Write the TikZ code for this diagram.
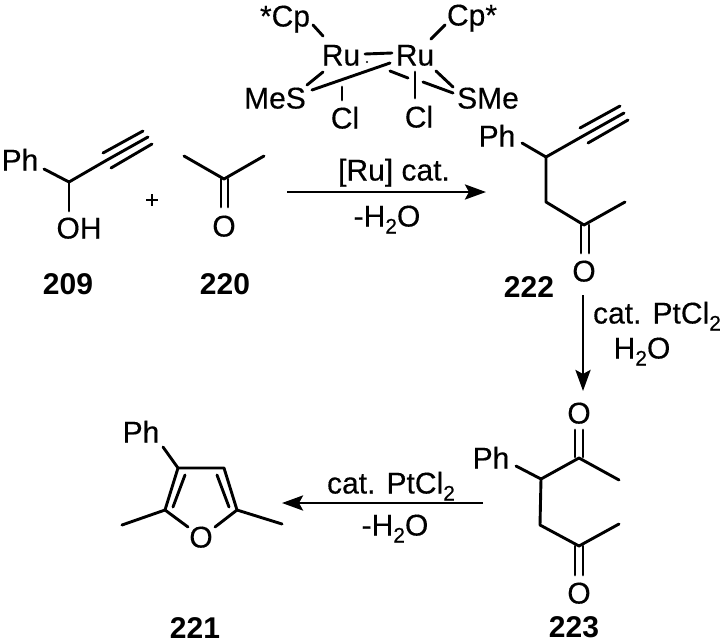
\documentclass[tikz,border=0pt]{standalone}
\usepackage{fontspec}
\setmainfont{Liberation Sans}
\newfontfamily\regfont[FakeBold=0.3]{Liberation Sans}
\usetikzlibrary{arrows.meta}
\newcommand{\subtwo}{\raisebox{-7pt}{\fontsize{21}{21}\selectfont 2}}
\tikzset{
  atom/.style={inner sep=0pt,text height=21pt,text depth=0pt,font=\regfont\fontsize{30}{32}\selectfont},
  cond/.style={inner sep=0pt,text height=21pt,text depth=0pt,font=\regfont\fontsize{30}{32}\selectfont},
  cmpd/.style={inner sep=0pt,text height=21pt,text depth=0pt,font=\fontsize{30}{32}\selectfont\bfseries},
  bond/.style={line width=2.9pt,line cap=round,line join=round},
  rxn/.style={line width=2.9pt,-{Stealth[length=21pt,width=15pt,inset=4pt]}},
}
\begin{document}
\begin{tikzpicture}[x=1pt,y=-1pt]
\useasboundingbox (0,0) rectangle (725,643);
\fill[white] (0,0) rectangle (725,643);
% --- Ru catalyst
\node[atom] (cpL) at (285,16) {*Cp};
\node[atom] (cpR) at (472,15) {Cp*};
\node[atom] (ruL) at (341,55) {Ru};
\node[atom] (ruR) at (415,55) {Ru};
\node[atom] (mes) at (275,98) {MeS};
\node[atom] (sme) at (488,98) {SMe};
\node[atom] (clL) at (345,118) {Cl};
\node[atom] (clR) at (419,117) {Cl};
\fill (367,62) coordinate (rudot) circle (1.2pt);
\coordinate (c1a) at (313,25); \coordinate (c1b) at (323,36);
\coordinate (c2a) at (445,25); \coordinate (c2b) at (431,39);
\coordinate (r1) at (365,54); \coordinate (r2) at (392,53);
\coordinate (s1a) at (323,72); \coordinate (s1b) at (307,85);
\coordinate (s2a) at (312,90); \coordinate (s2b) at (390,63);
\coordinate (l1a) at (342,87); \coordinate (l1b) at (342,100);
\coordinate (l2a) at (415,72); \coordinate (l2b) at (415,98);
\coordinate (l3a) at (390,71); \coordinate (l3b) at (408,78);
\coordinate (l4a) at (423,82); \coordinate (l4b) at (453,93);
\coordinate (s3a) at (436,71); \coordinate (s3b) at (453,87);
\foreach \p/\q in {c1a/c1b,c2a/c2b,r1/r2,s1a/s1b,s2a/s2b,l1a/l1b,l2a/l2b,l3a/l3b,l4a/l4b,s3a/s3b}
  \draw[bond] (\p) -- (\q);
% --- 209
\node[atom] (ph209) at (20,160) {Ph};
\node[atom] (oh209) at (79,228) {OH};
\node[cmpd] (n209) at (68,284) {209};
\coordinate (a0) at (44,169); \coordinate (a1) at (69,182); \coordinate (a2) at (107,160);
\coordinate (a3) at (148,137); \coordinate (a4) at (69,211);
\coordinate (a5) at (103,153); \coordinate (a6) at (143,131);
\coordinate (a7) at (111,168); \coordinate (a8) at (152,144);
\draw[bond] (a0) -- (a1) -- (a2) -- (a3);
\draw[bond] (a1) -- (a4);
\draw[bond] (a5) -- (a6);
\draw[bond] (a7) -- (a8);
\node[inner sep=0pt,font=\regfont\fontsize{24}{26}\selectfont] (plus) at (152,201) {+};
% --- 220
\node[atom] (o220) at (224,226) {O};
\node[cmpd] (n220) at (225,284) {220};
\coordinate (b1) at (184,156); \coordinate (b2) at (224,179); \coordinate (b3) at (264,156);
\coordinate (b4) at (221,179); \coordinate (b5) at (221,207);
\coordinate (b6) at (228,179); \coordinate (b7) at (228,207);
\draw[bond] (b1) -- (b2) -- (b3);
\draw[bond] (b4) -- (b5);
\draw[bond] (b6) -- (b7);
% --- arrow 1
\coordinate (ar1a) at (287,192); \coordinate (ar1b) at (486,192);
\draw[rxn] (ar1a) -- (ar1b);
\node[cond] (t1) at (394,170) {[Ru] cat.};
\node[cond] (t2) at (387,216) {-H\subtwo O};
% --- 222
\node[atom] (ph222) at (497,136) {Ph};
\node[atom] (o222) at (584,271) {O};
\node[cmpd] (n222) at (529,287) {222};
\coordinate (d0) at (522,143); \coordinate (d1) at (546,157); \coordinate (d2) at (583,136);
\coordinate (d3) at (624,113); \coordinate (d4) at (580,128); \coordinate (d5) at (620,106);
\coordinate (d6) at (588,143); \coordinate (d7) at (628,120);
\coordinate (d8) at (546,202); \coordinate (d9) at (584,225); \coordinate (d10) at (625,202);
\coordinate (d11) at (581,225); \coordinate (d12) at (581,253);
\coordinate (d13) at (589,225); \coordinate (d14) at (589,253);
\draw[bond] (d0) -- (d1) -- (d2) -- (d3);
\draw[bond] (d4) -- (d5);
\draw[bond] (d6) -- (d7);
\draw[bond] (d1) -- (d8) -- (d9) -- (d10);
\draw[bond] (d11) -- (d12);
\draw[bond] (d13) -- (d14);
% --- arrow 2
\coordinate (ar2a) at (583,295); \coordinate (ar2b) at (583,391);
\draw[rxn] (ar2a) -- (ar2b);
\node[cond] (t3) at (657,313) {cat. PtCl\subtwo};
\node[cond] (t4) at (642,348) {H\subtwo O};
% --- 223
\node[atom] (o223a) at (579,413) {O};
\node[atom] (ph223) at (491,458) {Ph};
\node[atom] (o223b) at (579,593) {O};
\node[cmpd] (n223) at (574,627) {223};
\coordinate (e0) at (516,466); \coordinate (e1) at (541,479); \coordinate (e2) at (579,458);
\coordinate (e3) at (619,480); \coordinate (e4) at (575,430); \coordinate (e5) at (575,457);
\coordinate (e6) at (583,430); \coordinate (e7) at (583,457);
\coordinate (e8) at (540,525); \coordinate (e9) at (579,546); \coordinate (e10) at (619,524);
\coordinate (e11) at (575,546); \coordinate (e12) at (575,575);
\coordinate (e13) at (583,546); \coordinate (e14) at (583,575);
\draw[bond] (e0) -- (e1) -- (e2) -- (e3);
\draw[bond] (e4) -- (e5);
\draw[bond] (e6) -- (e7);
\draw[bond] (e1) -- (e8) -- (e9) -- (e10);
\draw[bond] (e11) -- (e12);
\draw[bond] (e13) -- (e14);
% --- arrow 3
\coordinate (ar3a) at (483,503); \coordinate (ar3b) at (282,503);
\draw[rxn] (ar3a) -- (ar3b);
\node[cond] (t5) at (391,483) {cat. PtCl\subtwo};
\node[cond] (t6) at (395,525) {-H\subtwo O};
% --- 221
\node[atom] (ph221) at (141,432) {Ph};
\node[atom] (o221) at (201,537) {O};
\node[cmpd] (n221) at (195,628) {221};
\coordinate (f0) at (163,447); \coordinate (f1) at (178,468); \coordinate (f2) at (224,468);
\coordinate (f3) at (237,510); \coordinate (f4) at (165,510);
\coordinate (f5) at (185,475); \coordinate (f6) at (173,507);
\coordinate (f7) at (217,475); \coordinate (f8) at (229,507);
\coordinate (f9) at (188,527); \coordinate (f10) at (215,527);
\coordinate (f11) at (122,525); \coordinate (f12) at (282,524);
\draw[bond] (f0) -- (f1) -- (f2) -- (f3);
\draw[bond] (f1) -- (f4);
\draw[bond] (f5) -- (f6);
\draw[bond] (f7) -- (f8);
\draw[bond] (f11) -- (f4) -- (f9);
\draw[bond] (f12) -- (f3) -- (f10);
\end{tikzpicture}
\end{document}
